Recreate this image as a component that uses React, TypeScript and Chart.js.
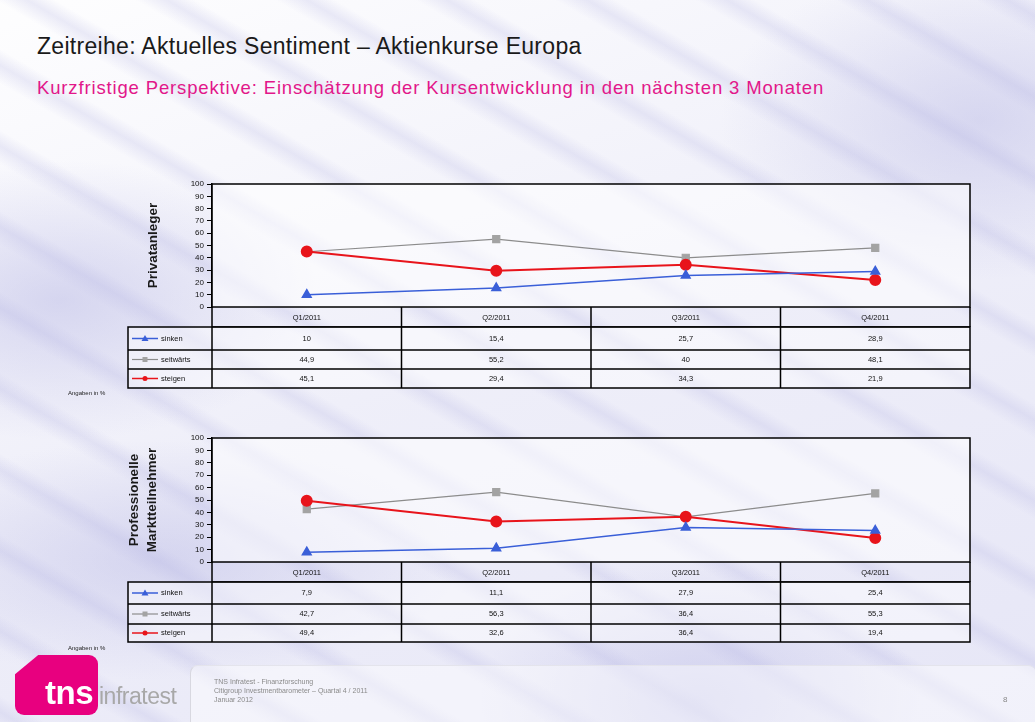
import React, { useEffect, useRef } from "react";
import { Chart, registerables } from "chart.js";

Chart.register(...registerables);

// ---------- data ----------
const quarters = ["Q1/2011", "Q2/2011", "Q3/2011", "Q4/2011"];
const seriesNames = ["sinken", "seitwärts", "steigen"];

const privSinken = [10, 15.4, 25.7, 28.9];
const privSeitwaerts = [44.9, 55.2, 40, 48.1];
const privSteigen = [45.1, 29.4, 34.3, 21.9];

const profSinken = [7.9, 11.1, 27.9, 25.4];
const profSeitwaerts = [42.7, 56.3, 36.4, 55.3];
const profSteigen = [49.4, 32.6, 36.4, 19.4];

const yMin = 0;
const yMax = 100;
const yStep = 10;

// ---------- styles ----------
const FONT = "'Liberation Sans', Arial, sans-serif";
const BLUE = "#3a5fd8";
const GRAY = "#8c8c8c";
const GRAY_PT = "#a3a3a3";
const RED = "#e8141b";
const PINK = "#e2178a";

const fmt = (v: number) => String(v).replace(".", ",");

const tablePlugin = {
  id: "dataTable",
  beforeDatasetsDraw(chart: any) {
    const { ctx, chartArea } = chart;
    ctx.save();
    ctx.fillStyle = "rgba(255,255,255,0.55)";
    ctx.fillRect(chartArea.left, chartArea.top, chartArea.right - chartArea.left, chartArea.bottom - chartArea.top);
    ctx.restore();
  },
  afterDraw(chart: any, _args: any, opts: any) {
    const { ctx, chartArea, scales } = chart;
    const x = scales.x;
    const n = chart.data.labels.length;
    const half = (x.getPixelForValue(1) - x.getPixelForValue(0)) / 2;
    const headerTop = chartArea.bottom;
    const headerBottom = x.bottom;
    const rowHeights: number[] = opts.rowHeights;
    const legendLeft: number = opts.legendLeft;
    const left = chartArea.left;
    const right = chartArea.right;

    ctx.save();
    ctx.strokeStyle = "#000";
    ctx.lineWidth = 1.5;
    ctx.strokeRect(chartArea.left, chartArea.top, right - left, chartArea.bottom - chartArea.top);

    ctx.beginPath();
    ctx.moveTo(left, headerBottom);
    ctx.lineTo(right, headerBottom);
    for (let i = 0; i <= n; i++) {
      const bx = i < n ? x.getPixelForValue(i) - half : x.getPixelForValue(n - 1) + half;
      ctx.moveTo(bx, headerTop);
      ctx.lineTo(bx, headerBottom);
    }
    ctx.stroke();

    let y = headerBottom;
    const datasets = chart.data.datasets;
    const totalBottom = headerBottom + rowHeights.reduce((a, b) => a + b, 0);
    ctx.fillStyle = "rgba(255,255,255,0.45)";
    ctx.fillRect(legendLeft, headerBottom, right - legendLeft, totalBottom - headerBottom);
    ctx.beginPath();
    ctx.rect(legendLeft, headerBottom, right - legendLeft, totalBottom - headerBottom);
    for (let r = 0; r < rowHeights.length; r++) {
      y += rowHeights[r];
      ctx.moveTo(legendLeft, y);
      ctx.lineTo(right, y);
    }
    for (let i = 0; i <= n; i++) {
      const bx = i < n ? x.getPixelForValue(i) - half : x.getPixelForValue(n - 1) + half;
      ctx.moveTo(bx, headerBottom);
      ctx.lineTo(bx, totalBottom);
    }
    ctx.strokeStyle = "#000";
    ctx.lineWidth = 1.5;
    ctx.stroke();

    ctx.font = `7.5px ${FONT}`;
    ctx.textBaseline = "middle";
    y = headerBottom;
    for (let r = 0; r < datasets.length; r++) {
      const ds = datasets[r];
      const cy = y + rowHeights[r] / 2;
      ctx.strokeStyle = ds.borderColor;
      ctx.lineWidth = Math.min(ds.borderWidth, 1.5);
      ctx.beginPath();
      ctx.moveTo(legendLeft + 4, cy);
      ctx.lineTo(legendLeft + 30, cy);
      ctx.stroke();
      const mx = legendLeft + 17;
      ctx.fillStyle = ds.pointBackgroundColor;
      ctx.beginPath();
      if (ds.pointStyle === "triangle") {
        ctx.moveTo(mx, cy - 3.5);
        ctx.lineTo(mx + 3.5, cy + 2.5);
        ctx.lineTo(mx - 3.5, cy + 2.5);
        ctx.closePath();
      } else if (ds.pointStyle === "rect") {
        ctx.rect(mx - 2.5, cy - 2.5, 5, 5);
      } else {
        ctx.arc(mx, cy, 2.5, 0, Math.PI * 2);
      }
      ctx.fill();
      ctx.fillStyle = "#111";
      ctx.textAlign = "left";
      ctx.fillText(ds.label, legendLeft + 33, cy);
      ctx.textAlign = "center";
      for (let i = 0; i < n; i++) {
        ctx.fillText(fmt(ds.data[i]), x.getPixelForValue(i), cy);
      }
      y += rowHeights[r];
    }
    ctx.restore();
  },
};

type ChartProps = {
  top: number;
  height: number;
  areaTop: number;
  areaBottom: number;
  title: string | string[];
  titlePad: number;
  titleLineHeight: number;
  sinken: number[];
  seit: number[];
  steig: number[];
  rowHeights: number[];
};

function SentimentChart(p: ChartProps) {
  const ref = useRef<HTMLCanvasElement>(null);
  useEffect(() => {
    if (!ref.current) return;
    const headerH = 20;
    const chart = new Chart(ref.current, {
      type: "line",
      data: {
        labels: quarters,
        datasets: [
          {
            label: seriesNames[0],
            data: p.sinken,
            borderColor: BLUE,
            backgroundColor: BLUE,
            pointBackgroundColor: BLUE,
            pointBorderColor: BLUE,
            borderWidth: 1.5,
            pointStyle: "triangle",
            pointRadius: 5,
            order: 1,
          },
          {
            label: seriesNames[1],
            data: p.seit,
            borderColor: GRAY,
            backgroundColor: GRAY_PT,
            pointBackgroundColor: GRAY_PT,
            pointBorderColor: GRAY_PT,
            borderWidth: 1.2,
            pointStyle: "rect",
            pointRadius: 5,
            order: 3,
          },
          {
            label: seriesNames[2],
            data: p.steig,
            borderColor: RED,
            backgroundColor: RED,
            pointBackgroundColor: RED,
            pointBorderColor: RED,
            borderWidth: 2,
            pointStyle: "circle",
            pointRadius: 5,
            order: 2,
          },
        ] as any,
      },
      options: {
        animation: false,
        responsive: false,
        maintainAspectRatio: false,
        devicePixelRatio: 1,
        layout: {
          padding: { left: 0, right: 65, top: p.areaTop, bottom: p.height - p.areaBottom - headerH },
        },
        plugins: {
          legend: { display: false },
          tooltip: { enabled: false },
          dataTable: { rowHeights: p.rowHeights, legendLeft: 128 },
        } as any,
        scales: {
          x: {
            type: "category",
            offset: true,
            grid: { display: false, drawTicks: false },
            border: { display: false },
            ticks: { font: { family: FONT, size: 7.5 }, color: "#111", padding: 6, maxRotation: 0, autoSkip: false },
            afterFit: (s: any) => {
              s.height = headerH;
            },
          },
          y: {
            min: yMin,
            max: yMax,
            ticks: { stepSize: yStep, font: { family: FONT, size: 8 }, color: "#111", padding: 3, autoSkip: false },
            grid: { drawOnChartArea: false, drawTicks: true, tickLength: 5, color: "#000", lineWidth: 1 },
            border: { display: true, color: "#000", width: 1.5 },
            title: {
              display: true,
              text: p.title,
              color: "#1a1a1a",
              font: { family: FONT, size: 13.5, weight: "bold", lineHeight: p.titleLineHeight },
              padding: { top: p.titlePad, bottom: 0 },
            },
            afterFit: (s: any) => {
              s.width = 212;
            },
          },
        },
      } as any,
      plugins: [tablePlugin],
    });
    return () => chart.destroy();
  }, []);
  return (
    <canvas
      ref={ref}
      width={1035}
      height={p.height}
      style={{ position: "absolute", left: 0, top: p.top, width: 1035, height: p.height }}
    />
  );
}

export default function App() {
  const bg =
    "radial-gradient(ellipse 260px 140px at 60px 300px, rgba(175,175,225,0.45), rgba(175,175,225,0) 100%)," +
    "radial-gradient(ellipse 300px 120px at 160px 560px, rgba(175,175,225,0.40), rgba(175,175,225,0) 100%)," +
    "radial-gradient(ellipse 260px 160px at 980px 120px, rgba(175,175,225,0.40), rgba(175,175,225,0) 100%)," +
    "radial-gradient(ellipse 220px 140px at 700px 700px, rgba(175,175,225,0.40), rgba(175,175,225,0) 100%)," +
    "repeating-linear-gradient(210deg, rgba(185,185,228,0.0) 0px, rgba(185,185,228,0.28) 14px, rgba(185,185,228,0.0) 30px, rgba(255,255,255,0) 70px)," +
    "linear-gradient(160deg, rgba(255,255,255,0.9) 0%, rgba(236,236,248,0.6) 50%, rgba(225,225,245,0.7) 100%)," +
    "#f2f2fa";
  return (
    <div
      style={{
        position: "fixed",
        left: 0,
        top: 0,
        width: 1035,
        height: 722,
        overflow: "hidden",
        background: bg,
        fontFamily: FONT,
      }}
    >
      <div style={{ position: "absolute", left: 37, top: 33, fontSize: 23, color: "#1a1a1a", whiteSpace: "nowrap", letterSpacing: 0.3 }}>
        Zeitreihe: Aktuelles Sentiment – Aktienkurse Europa
      </div>
      <div style={{ position: "absolute", left: 37, top: 77, fontSize: 18.5, color: PINK, whiteSpace: "nowrap", letterSpacing: 0.85 }}>
        Kurzfristige Perspektive: Einschätzung der Kursentwicklung in den nächsten 3 Monaten
      </div>

      <SentimentChart
        top={170}
        height={230}
        areaTop={14}
        areaBottom={137}
        title="Privatanleger"
        titlePad={145}
        titleLineHeight={1.2}
        sinken={privSinken}
        seit={privSeitwaerts}
        steig={privSteigen}
        rowHeights={[23, 19, 19]}
      />
      <div style={{ position: "absolute", left: 68, top: 390, fontSize: 6, color: "#222" }}>Angaben in %</div>

      <SentimentChart
        top={425}
        height={230}
        areaTop={13}
        areaBottom={137}
        title={["Professionelle", "Marktteilnehmer"]}
        titlePad={125}
        titleLineHeight={1.35}
        sinken={profSinken}
        seit={profSeitwaerts}
        steig={profSteigen}
        rowHeights={[22, 20, 18]}
      />
      <div style={{ position: "absolute", left: 68, top: 645, fontSize: 6, color: "#222" }}>Angaben in %</div>

      {/* footer */}
      <div
        style={{
          position: "absolute",
          left: 15,
          top: 655,
          width: 83,
          height: 60,
          background: "#e8007f",
          borderRadius: 9,
          clipPath: "polygon(28% 0, 100% 0, 100% 100%, 0 100%, 0 32%)",
        }}
      />
      <div style={{ position: "absolute", left: 45, top: 676, fontSize: 33, fontWeight: "bold", color: "#fff", lineHeight: "34px", letterSpacing: -0.5 }}>
        tns
      </div>
      <div style={{ position: "absolute", left: 99, top: 683, fontSize: 23, color: "#a8a8a8", lineHeight: "26px", letterSpacing: -0.5 }}>
        infratest
      </div>
      <div
        style={{
          position: "absolute",
          left: 190,
          top: 665,
          width: 845,
          height: 70,
          borderLeft: "1px solid #d8d8e0",
          borderTop: "1px solid #e4e4ec",
          borderRadius: 8,
          background: "rgba(255,255,255,0.45)",
        }}
      />
      <div style={{ position: "absolute", left: 214, top: 677, fontSize: 7, color: "#8a8a8a", lineHeight: "9px" }}>
        TNS Infratest - Finanzforschung
        <br />
        Citigroup Investmentbarometer – Quartal 4 / 2011
        <br />
        Januar 2012
      </div>
      <div style={{ position: "absolute", left: 1003, top: 695, fontSize: 8, color: "#888" }}>8</div>
    </div>
  );
}
